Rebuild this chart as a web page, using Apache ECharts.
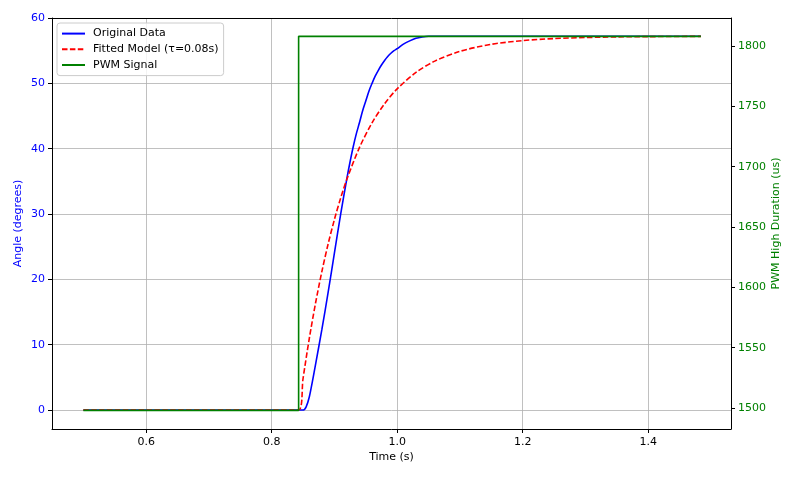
<!DOCTYPE html>
<html>
<head>
<meta charset="utf-8">
<script src="https://cdn.jsdelivr.net/npm/echarts@6/dist/echarts.min.js"></script>
<style>
html,body{margin:0;padding:0;background:#fff;}
#chart{width:797px;height:478px;}
</style>
</head>
<body>
<div id="chart"></div>
<script>
// Original measured data
const timeOrig  = [0.5, 0.85, 0.855, 0.86, 0.865, 0.87, 0.88, 0.89, 0.90, 0.91, 0.92, 0.925, 0.93, 0.935, 0.94, 0.945, 0.95, 0.955, 0.96, 0.965, 0.97, 0.975, 0.98, 0.985, 0.99, 0.995, 1.00, 1.01, 1.02, 1.03, 1.04, 1.05, 1.484];
const angleOrig = [0, 0, 0.5, 2, 4.4, 7, 12.3, 18, 24, 30, 35.5, 38, 40.3, 42.3, 44, 45.8, 47.3, 48.8, 50, 51.1, 52, 52.8, 53.5, 54.1, 54.6, 55.0, 55.3, 56, 56.5, 56.9, 57.1, 57.2, 57.2];
// Fitted model (tau = 0.08 s)
const timeFit  = [0.5, 0.843, 0.85, 0.86, 0.87, 0.88, 0.89, 0.90, 0.91, 0.92, 0.94, 0.96, 0.98, 1.00, 1.03, 1.06, 1.10, 1.15, 1.20, 1.25, 1.30, 1.35, 1.40, 1.484];
const angleFit = [0, 0, 4.79, 10.95, 16.38, 21.18, 25.41, 29.15, 32.44, 35.36, 40.19, 43.95, 46.88, 49.16, 51.67, 53.40, 54.90, 55.97, 56.54, 56.85, 57.01, 57.11, 57.15, 57.19];
// PWM signal
const timePwm  = [0.5, 0.843, 0.843, 1.484];
const pwmValue = [1498, 1498, 1808, 1808];
// Axis settings
const xRange = [0.45, 1.532];
const yLeftRange = [-2.9, 60];
const yRightRange = [1482.6, 1823.2];
const legendNames = ['Original Data', 'Fitted Model (\u03c4=0.08s)', 'PWM Signal'];

const zip = (a, b) => a.map((v, i) => [v, b[i]]);
const font = 'DejaVu Sans';
const gridLine = {show: true, lineStyle: {color: '#b0b0b0', width: 0.8}};

const chart = echarts.init(document.getElementById('chart'), null, {renderer: 'canvas'});
chart.setOption({
  animation: false,
  backgroundColor: '#fff',
  textStyle: {fontFamily: font},
  grid: {left: 52, right: 66, top: 18, bottom: 49, containLabel: false},
  legend: {
    orient: 'vertical', left: 57, top: 23,
    padding: [5, 5, 5, 4],
    itemWidth: 23, itemHeight: 14, itemGap: 4.5,
    backgroundColor: 'rgba(255,255,255,0.8)',
    borderColor: '#cccccc', borderWidth: 1, borderRadius: 3,
    itemStyle: {opacity: 0},
    textStyle: {fontFamily: font, fontSize: 11, color: '#000', padding: [0, 0, 0, 3]},
    data: legendNames
  },
  xAxis: [{
    type: 'value', min: xRange[0], max: xRange[1],
    name: 'Time (s)', nameLocation: 'middle', nameGap: 23, nameMoveOverlap: false,
    nameTextStyle: {fontFamily: font, fontSize: 11, color: '#000'},
    axisLine: {show: true, onZero: false, lineStyle: {color: '#000', width: 1}},
    axisTick: {show: true, inside: false, length: 4, lineStyle: {color: '#000'}},
    axisLabel: {fontFamily: font, fontSize: 11, color: '#000', margin: 8, showMinLabel: false, showMaxLabel: false,
      formatter: v => v.toFixed(1)},
    splitLine: gridLine
  }, {
    type: 'value', min: xRange[0], max: xRange[1], position: 'top',
    axisLine: {show: true, onZero: false, lineStyle: {color: '#000', width: 1}},
    axisTick: {show: false}, axisLabel: {show: false}, splitLine: {show: false}
  }],
  yAxis: [{
    type: 'value', min: yLeftRange[0], max: yLeftRange[1], position: 'left',
    name: 'Angle (degrees)', nameLocation: 'middle', nameGap: 28, nameMoveOverlap: false,
    nameTextStyle: {fontFamily: font, fontSize: 11, color: '#0000ff'},
    axisLine: {show: true, onZero: false, lineStyle: {color: '#000', width: 1}},
    axisTick: {show: true, inside: false, length: 4, lineStyle: {color: '#000'}},
    axisLabel: {fontFamily: font, fontSize: 11, color: '#0000ff', margin: 7, showMinLabel: false},
    splitLine: gridLine
  }, {
    type: 'value', min: yRightRange[0], max: yRightRange[1], position: 'right',
    name: 'PWM High Duration (us)', nameLocation: 'middle', nameGap: 40, nameMoveOverlap: false,
    nameTextStyle: {fontFamily: font, fontSize: 11, color: '#008000'},
    axisLine: {show: true, onZero: false, lineStyle: {color: '#000', width: 1}},
    axisTick: {show: true, inside: false, length: 4, lineStyle: {color: '#000'}},
    axisLabel: {fontFamily: font, fontSize: 11, color: '#008000', margin: 7, showMinLabel: false, showMaxLabel: false,
      formatter: v => String(Math.round(v))},
    splitLine: {show: false}
  }],
  series: [{
    name: legendNames[0], type: 'line', xAxisIndex: 0, yAxisIndex: 0,
    data: zip(timeOrig, angleOrig), smooth: 0.3, symbol: 'none',
    lineStyle: {color: '#0000ff', width: 1.6}, itemStyle: {color: '#0000ff'}
  }, {
    name: legendNames[1], type: 'line', xAxisIndex: 0, yAxisIndex: 0,
    data: zip(timeFit, angleFit), smooth: 0.3, symbol: 'none',
    lineStyle: {color: '#ff0000', width: 1.6, type: [5.5, 2.4]}, itemStyle: {color: '#ff0000'}
  }, {
    name: legendNames[2], type: 'line', xAxisIndex: 0, yAxisIndex: 1,
    data: zip(timePwm, pwmValue), symbol: 'none',
    lineStyle: {color: '#008000', width: 1.6}, itemStyle: {color: '#008000'}
  }]
});
</script>
</body>
</html>
